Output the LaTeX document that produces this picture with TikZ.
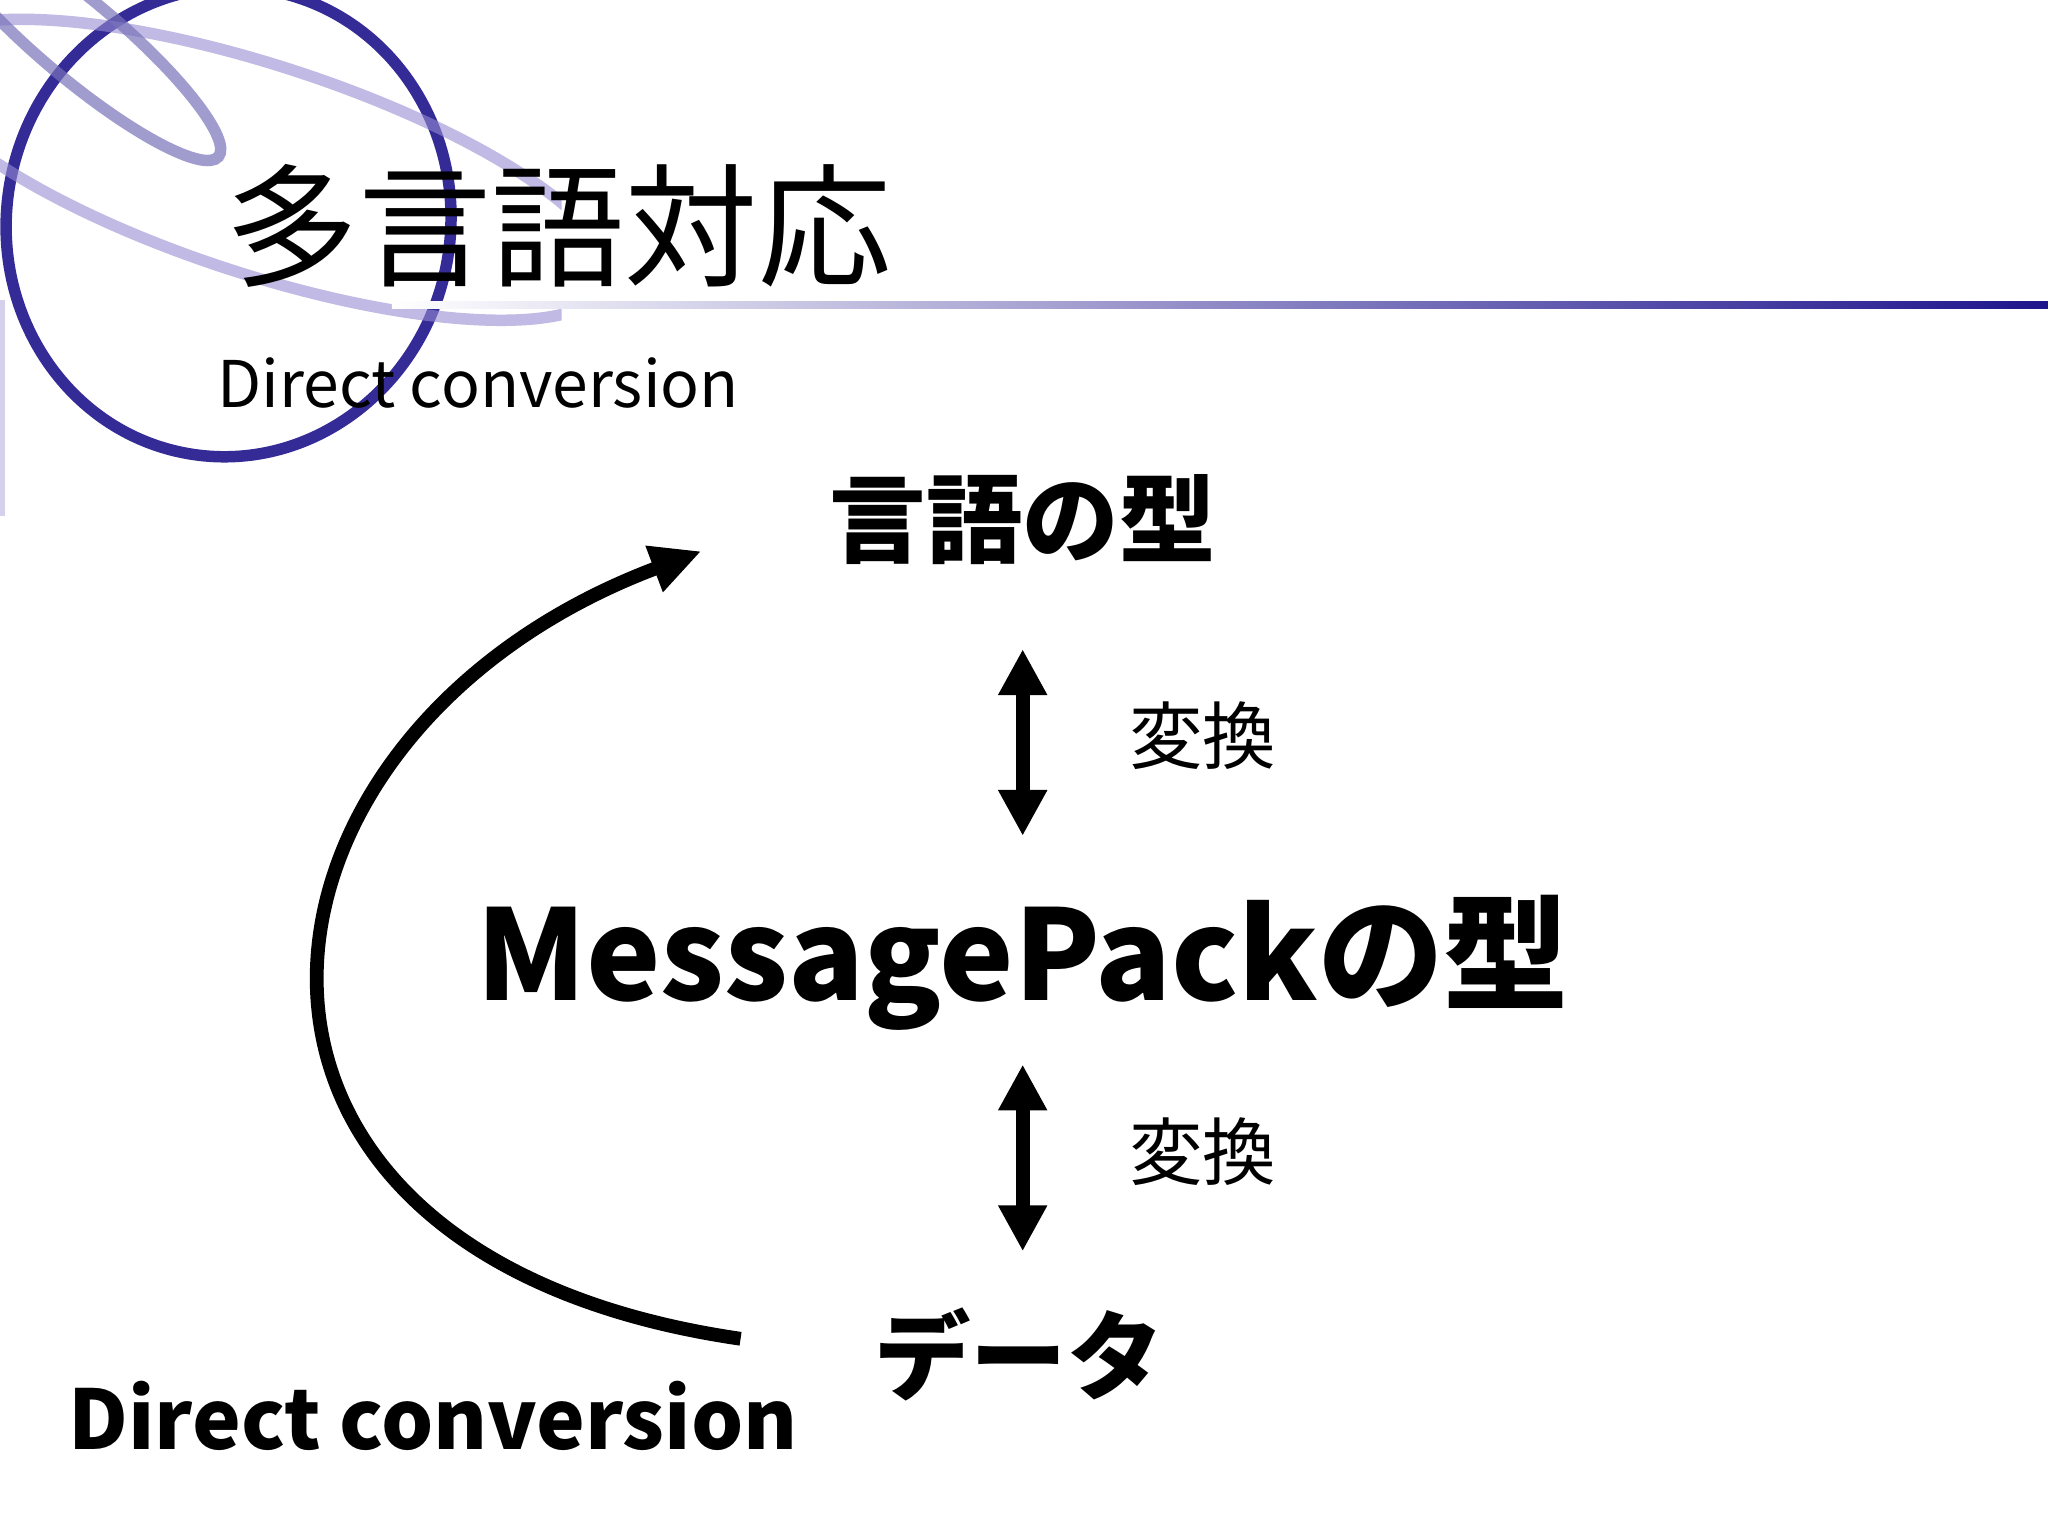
\documentclass[tikz,border=0pt]{standalone}
\usepackage{fontspec}
\setmainfont{Noto Sans CJK JP}
\usetikzlibrary{arrows.meta,shadings}
\definecolor{navy}{RGB}{30,20,140}
\definecolor{lav}{RGB}{150,140,210}
\tikzset{
  arr/.style={line width=3pt,-{Triangle[length=11pt,width=10pt]}},
  darr/.style={line width=3pt,{Triangle[length=10pt,width=10pt]}-{Triangle[length=10pt,width=10pt]}},
  lbl/.style={font=\fontsize{16}{18}\selectfont\addfontfeature{Weight=Light}, anchor=west},
  big/.style={font=\fontsize{21}{24}\selectfont\bfseries}
}
\begin{document}
\begin{tikzpicture}[x=0.01cm,y=-0.01cm]
\useasboundingbox[fill=white] (0,0) rectangle (1568,1176);
% decoration
\begin{scope}
\clip (0,0) rectangle (430,400);
\draw[navy,line width=2.5pt,opacity=0.9,rotate around={-10:(175,170)}] (175,170) ellipse (170 and 180);
\draw[lav,line width=2.5pt,opacity=0.6,rotate around={-18:(200,130)}] (200,130) ellipse (280 and 80);
\draw[navy!60,line width=2.5pt,opacity=0.7,rotate around={-40:(60,30)}] (60,30) ellipse (140 and 30);
\end{scope}
\draw[line width=1pt,lav!40] (2,230) -- (2,395);
\shade[left color=white,right color=navy] (300,231) rectangle (1568,236);
\node[anchor=base west,font=\fontsize{29}{32}\selectfont\addfontfeature{Weight=Light}] (title) at (160,212) {多言語対応};
\node[anchor=base west,font=\fontsize{14}{16}\selectfont] (sub) at (154,312) {Direct conversion};
% main
\node[big] (lang) at (783,398) {言語の型};
\node[font=\fontsize{27.3}{30}\selectfont\bfseries] (mp) at (783,737) {MessagePackの型};
\node[big] (data) at (780,1037) {データ};
\coordinate (a1) at (783,497); \coordinate (a2) at (783,640);
\coordinate (b1) at (783,815); \coordinate (b2) at (783,958);
\draw[darr] (a1) -- (a2);
\draw[darr] (b1) -- (b2);
\node[lbl] (c1) at (852,563) {変換};
\node[lbl] (c2) at (852,882) {変換};
\coordinate (s) at (567,1025);
\coordinate (e) at (537,422);
\draw[arr] (s) .. controls (120,960) and (170,560) .. (e);
\node[anchor=base west,font=\fontsize{17.9}{20}\selectfont\bfseries] (dc) at (40,1110) {Direct conversion};
\end{tikzpicture}
\end{document}
